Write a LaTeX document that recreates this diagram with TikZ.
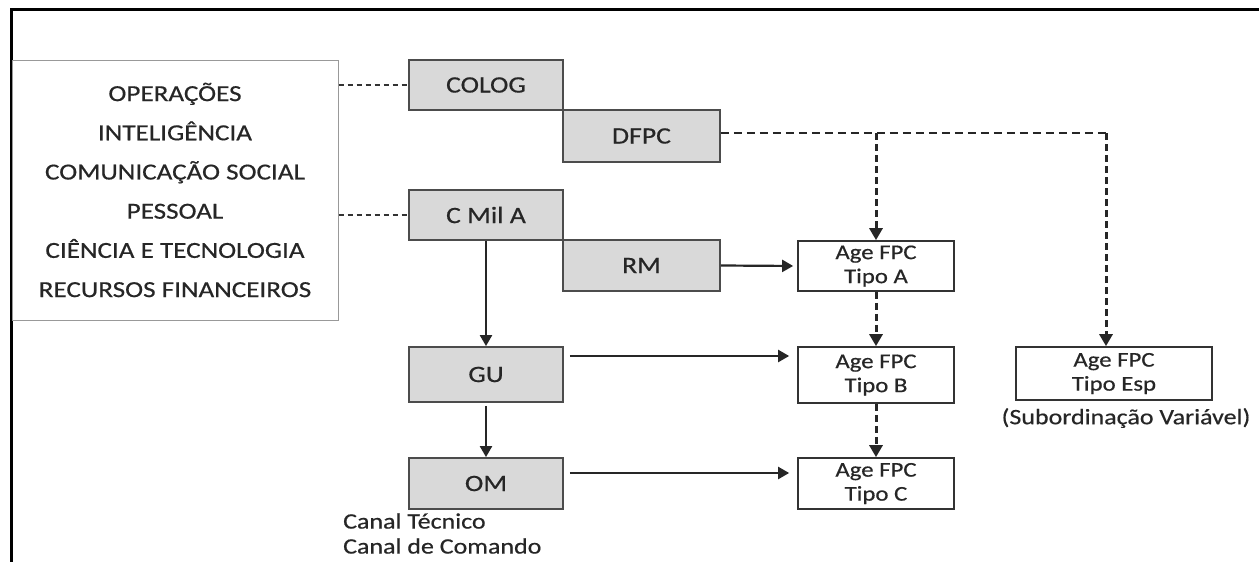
\documentclass[tikz,border=0pt]{standalone}
\usepackage{fontspec}
\setmainfont{Carlito}[FakeStretch=1.18, FakeBold=0.5]
\usetikzlibrary{arrows.meta}
\begin{document}
\begin{tikzpicture}[x=1pt,y=-1pt,
  graybox/.style={draw=black!70, line width=1.8pt, fill=black!15, inner sep=0pt,
    font=\fontsize{23.5}{26}\selectfont, text=black!85},
  agebox/.style={draw=black!80, line width=1.7pt, fill=white, inner sep=0pt, align=center,
    font=\fontsize{21}{24}\selectfont, text=black!85},
  leftbox/.style={draw=black!40, line width=1pt, inner sep=0pt, align=center,
    font=\fontsize{23}{39.2}\selectfont, text=black!85},
  plaintext/.style={inner sep=0pt, font=\fontsize{22}{24}\selectfont, text=black!85},
  thindash/.style={line width=1.4pt, dash pattern=on 5pt off 4pt, black!80},
  hdash/.style={line width=2pt, dash pattern=on 8pt off 5pt, black!85},
  vdash/.style={line width=3pt, dash pattern=on 7pt off 4pt, black!85,
    -{Triangle[length=12pt,width=13pt]}},
  solidarrow/.style={line width=2.2pt, black!85, -{Triangle[length=11pt,width=12pt]}}
]
\useasboundingbox (0,0) rectangle (1259,562);
\fill[white] (0,0) rectangle (1259,562);

% frame
\draw[line width=3pt] (11,562) -- (11,9) -- (1259,9);

% left box
\node[leftbox, minimum width=326pt, minimum height=260pt] (left) at (175,190)
  {OPERAÇÕES\\INTELIGÊNCIA\\COMUNICAÇÃO SOCIAL\\PESSOAL\\CIÊNCIA E TECNOLOGIA\\RECURSOS FINANCEIROS};

% gray boxes
\node[graybox, minimum width=154pt, minimum height=50pt] (colog) at (486,85) {COLOG};
\node[graybox, minimum width=157pt, minimum height=52pt] (dfpc) at (641.5,136) {DFPC};
\node[graybox, minimum width=154pt, minimum height=50pt] (cmil) at (486,215) {C Mil A};
\node[graybox, minimum width=157pt, minimum height=51pt] (rm) at (641.5,265.5) {RM};
\node[graybox, minimum width=154pt, minimum height=55pt] (gu) at (486,374.5) {GU};
\node[graybox, minimum width=154pt, minimum height=51pt] (om) at (486,483.5) {OM};

% Age FPC boxes
\node[agebox, minimum width=156pt, minimum height=50pt] (ta) at (876,266) {Age FPC\\Tipo A};
\node[agebox, minimum width=156pt, minimum height=56pt] (tb) at (876,375) {Age FPC\\Tipo B};
\node[agebox, minimum width=156pt, minimum height=51pt] (tc) at (876,483.5) {Age FPC\\Tipo C};
\node[agebox, minimum width=196pt, minimum height=53pt] (te) at (1114,373.5) {Age FPC\\Tipo Esp};
\node[plaintext] (sub) at (1126,418) {(Subordinação Variável)};

% legend texts
\node[plaintext, anchor=west] (ct) at (343,521) {Canal Técnico};
\node[plaintext, anchor=west] (cc) at (343,546) {Canal de Comando};

% dashed connectors from left box
\draw[thindash] (left.east |- colog) -- (colog.west);
\draw[thindash] (left.east |- cmil) -- (cmil.west);

% DFPC technical channel
\coordinate (j1) at (876,133);
\coordinate (j2) at (1106,133);
\draw[hdash] (dfpc.east |- j2) -- (j2);
\draw[vdash] (j1) -- (ta.north);
\draw[vdash] (j2) -- (te.north -| j2);
\draw[vdash] (ta.south) -- (tb.north);
\draw[vdash] (tb.south) -- (tc.north);

% command channel
\draw[solidarrow] (cmil.south) -- (gu.north);
\draw[solidarrow] ([yshift=-3pt]gu.south) -- (om.north);
\draw[solidarrow, shorten >=4pt] (rm.east) -- (ta.west);
\coordinate (gu1) at ([xshift=6pt,yshift=18.5pt]gu.east);
\coordinate (om1) at ([xshift=6pt,yshift=10.5pt]om.east);
\draw[solidarrow, shorten >=8pt] (gu1) -- (gu1 -| tb.west);
\draw[solidarrow, shorten >=8pt] (om1) -- (om1 -| tc.west);
\end{tikzpicture}
\end{document}
